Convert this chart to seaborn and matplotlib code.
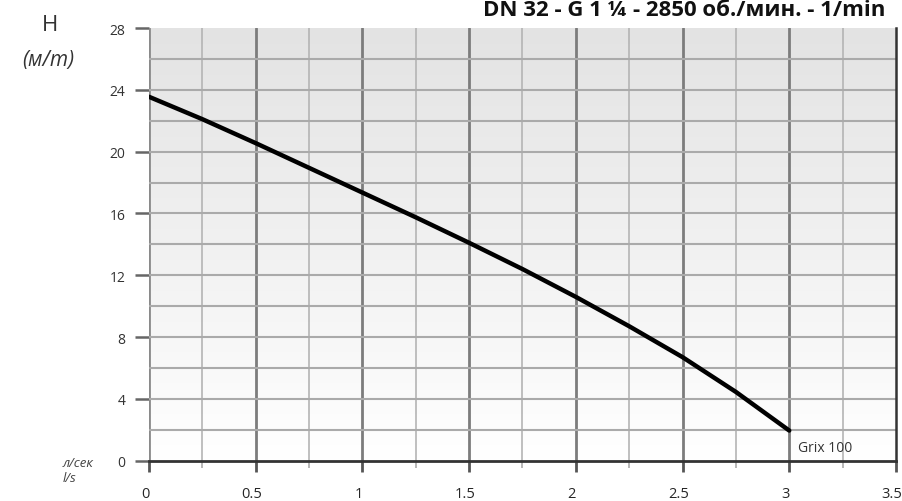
import numpy as np
import pandas as pd
import seaborn as sns
import matplotlib.pyplot as plt
from matplotlib.colors import LinearSegmentedColormap
from matplotlib.transforms import ScaledTranslation

# curve
flow = [0, 0.25, 0.5, 0.75, 1.0, 1.25, 1.5, 1.75, 2.0, 2.25, 2.5, 2.75, 3.0]
head = [23.55, 22.1, 20.55, 18.95, 17.35, 15.75, 14.1, 12.4, 10.6, 8.7, 6.7, 4.45, 1.95]
x_ticks = [0, 0.5, 1, 1.5, 2, 2.5, 3, 3.5]
x_labels = ['0', '0.5', '1', '1.5', '2', '2.5', '3', '3.5']
y_ticks = [0, 4, 8, 12, 16, 20, 24, 28]
model = 'Grix 100'
title = 'DN 32 - G 1 \u00bc - 2850 об./мин. - 1/min'

sns.set_style('white')
plt.rcParams['font.family'] = ['Open Sans', 'DejaVu Sans']

df = pd.DataFrame({'Q': flow, 'H': head})

fig = plt.figure(figsize=(9.02, 5.02), dpi=100)
ax = fig.add_axes([0.1652, 0.0803, 0.8281, 0.8619])

# grey-to-white background
grad = np.linspace(0, 1, 256).reshape(-1, 1)
bg = LinearSegmentedColormap.from_list('bg', ['#e3e3e3', '#ffffff'])
ax.imshow(grad, cmap=bg, extent=[0, 3.5, 0, 28], aspect='auto',
          origin='upper', zorder=0)

# grid
for v in np.arange(0.25, 3.5, 0.5):
    ax.axvline(v, color='#b4b4b4', lw=1.2, zorder=1)
for v in np.arange(0.5, 3.5, 0.5):
    ax.axvline(v, color='#7c7c7c', lw=2.0, zorder=1)
ax.axvline(0, color='#8a8a8a', lw=2.0, zorder=1)
for v in np.arange(2, 28, 2):
    ax.axhline(v, color='#aaaaaa', lw=1.5, zorder=1)

sns.lineplot(data=df, x='Q', y='H', color='black', lw=3.2, ax=ax, zorder=3)

ax.text(3.04, 0.85, model, fontsize=10, color='#333333', va='center', ha='left')

ax.set_xlim(0, 3.5)
ax.set_ylim(0, 28)
ax.set_xticks(x_ticks)
ax.set_xticklabels(x_labels)
ax.set_xticks(np.arange(0.25, 3.5, 0.5), minor=True)
ax.set_yticks(y_ticks)
ax.set_xlabel('')
ax.set_ylabel('')
ax.tick_params(axis='x', which='major', length=8, width=2, color='#555555',
               labelsize=10.5, pad=10, direction='out', bottom=True)
ax.tick_params(axis='x', which='minor', length=5, width=1.2, color='#aaaaaa',
               bottom=True)
ax.tick_params(axis='y', length=10, width=1.8, color='#666666', labelsize=10,
               pad=7, direction='out', left=True, labelcolor='#333333')
shift = ScaledTranslation(-4 / 100, 0, fig.dpi_scale_trans)
for lab in ax.get_xticklabels():
    lab.set_transform(lab.get_transform() + shift)

for s in ['top', 'left']:
    ax.spines[s].set_visible(False)
ax.spines['bottom'].set_color('#333333')
ax.spines['bottom'].set_linewidth(2)
ax.spines['right'].set_color('#333333')
ax.spines['right'].set_linewidth(1.8)

fig.text(0.055, 0.95, 'H', fontsize=16, ha='center', va='center', color='#333333')
fig.text(0.053, 0.88, '(м/m)', fontsize=15, ha='center', va='center',
         color='#333333', style='italic')
fig.text(0.069, 0.077, 'л/сек', fontsize=9.5, ha='left', va='center',
         color='#444444', style='italic')
fig.text(0.069, 0.047, 'l/s', fontsize=9.5, ha='left', va='center',
         color='#444444', style='italic')
fig.text(0.982, 0.968, title, fontsize=16, fontweight='bold', ha='right',
         va='baseline', color='#111111')

fig.savefig('out.png', dpi=100)
